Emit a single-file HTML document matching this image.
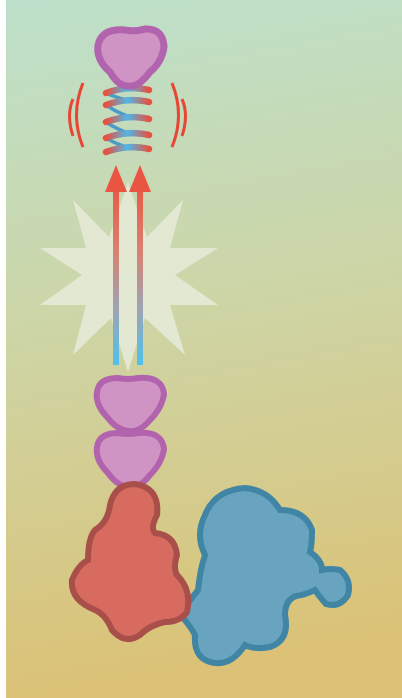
<!DOCTYPE html>
<html><head><meta charset="utf-8"><style>
html,body{margin:0;padding:0;width:402px;height:698px;overflow:hidden;background:#fff}
svg{display:block}
</style></head><body>
<svg width="402" height="698" viewBox="0 0 402 698" xmlns="http://www.w3.org/2000/svg">
<defs>
<linearGradient id="bg" x1="0" y1="0" x2="0.1" y2="1">
<stop offset="0" stop-color="#bde0cb"/>
<stop offset="0.45" stop-color="#ccd6a8"/>
<stop offset="1" stop-color="#dbc276"/>
</linearGradient>
<linearGradient id="arr" x1="0" y1="0" x2="0" y2="1">
<stop offset="0" stop-color="#ea5a45"/>
<stop offset="0.35" stop-color="#d98070"/>
<stop offset="0.7" stop-color="#9aa6b6"/>
<stop offset="1" stop-color="#4fc0ee"/>
</linearGradient>
<linearGradient id="coil" x1="0" y1="0" x2="1" y2="0">
<stop offset="0" stop-color="#e8503f"/>
<stop offset="0.5" stop-color="#4fb7e6"/>
<stop offset="1" stop-color="#e8503f"/>
</linearGradient>
</defs>
<rect x="6" y="0" width="396" height="698" fill="url(#bg)"/>
<polygon fill="#e3e8d2" points="128,183 147,237 183,200 170,248 218,248 175,275 218,305 170,305 185,355 145,318 128,372 111,318 73,355 86,305 40,305 82,275 40,248 86,248 73,200 109,237"/>
<g>
<rect x="113" y="188" width="6" height="177" fill="url(#arr)"/>
<polygon points="105,192 116,165 127,192" fill="#ea5443"/>
</g>
<g>
<rect x="137" y="188" width="6" height="177" fill="url(#arr)"/>
<polygon points="129,192 140,165 151,192" fill="#ea5443"/>
</g>
<g fill="none" stroke-linecap="round">
<path d="M106,93 Q128,103 149,102" stroke="#4a9cc8" stroke-width="3.5"/>
<path d="M106,105 Q128,120 149,119" stroke="#4a9cc8" stroke-width="3.5"/>
<path d="M106,122 Q128,137 149,135" stroke="#4a9cc8" stroke-width="3.5"/>
<path d="M106,138 Q128,151 149,149" stroke="#4a9cc8" stroke-width="3.5"/>
<path d="M106,93 Q128,85 149,90" stroke="url(#coil)" stroke-width="6.5"/>
<path d="M106,105 Q128,97 149,102" stroke="url(#coil)" stroke-width="6.5"/>
<path d="M106,122 Q128,114 149,119" stroke="url(#coil)" stroke-width="6.5"/>
<path d="M106,138 Q128,130 149,135" stroke="url(#coil)" stroke-width="6.5"/>
<path d="M106,152 Q128,144 149,149" stroke="url(#coil)" stroke-width="6.5"/>
</g>
<g fill="none" stroke="#e84535" stroke-width="3">
<path d="M83,83 Q70,115 83,147"/>
<path d="M73,99 Q66,115 73,136"/>
<path d="M172,83 Q185,115 172,147"/>
<path d="M182,99 Q189,115 182,136"/>
</g>
<path fill="#d094c4" stroke="#b263ad" stroke-width="7" d="M98,45 Q102,28 125,30 Q135,32 145,29 Q163,28 164,47 Q162,62 150,72 Q138,88 128,86 Q118,86 110,72 Q96,60 98,45 Z"/>
<path fill="#d094c4" stroke="#b263ad" stroke-width="6" d="M97,392 Q99,378 118,378 Q128,380 138,378 Q162,376 164,394 Q162,408 150,420 Q140,432 130,431 Q118,431 108,418 Q95,405 97,392 Z"/>
<path fill="#d094c4" stroke="#b263ad" stroke-width="6" d="M97,447 Q99,433 118,433 Q128,435 138,433 Q162,431 164,449 Q162,463 150,475 Q140,488 130,487 Q118,487 108,473 Q95,460 97,447 Z"/>
<path fill="#68a3c0" stroke="#4185a4" stroke-width="6" d="M205,515 Q215,490 245,488 Q268,490 280,510 Q305,510 312,530 Q312,545 310,552 Q322,560 322,570 Q330,568 340,570 Q352,580 348,595 Q340,608 326,604 Q318,595 315,590 Q305,595 296,596 Q285,600 285,615 Q290,640 270,647 Q255,650 245,645 Q232,665 215,663 Q193,660 195,635 Q190,625 180,615 Q190,600 198,590 Q200,570 205,555 Q195,535 205,515 Z"/>
<path fill="#d86b60" stroke="#a84f4a" stroke-width="6" d="M110,505 Q115,484 135,484 Q160,488 157,515 Q150,528 155,533 Q175,535 177,555 Q173,568 177,575 Q192,590 187,612 Q180,622 165,622 Q150,625 140,635 Q125,645 112,630 Q106,615 95,610 Q70,600 72,580 Q78,565 88,560 Q88,538 95,530 Q108,522 110,505 Z"/>
</svg>
</body></html>
